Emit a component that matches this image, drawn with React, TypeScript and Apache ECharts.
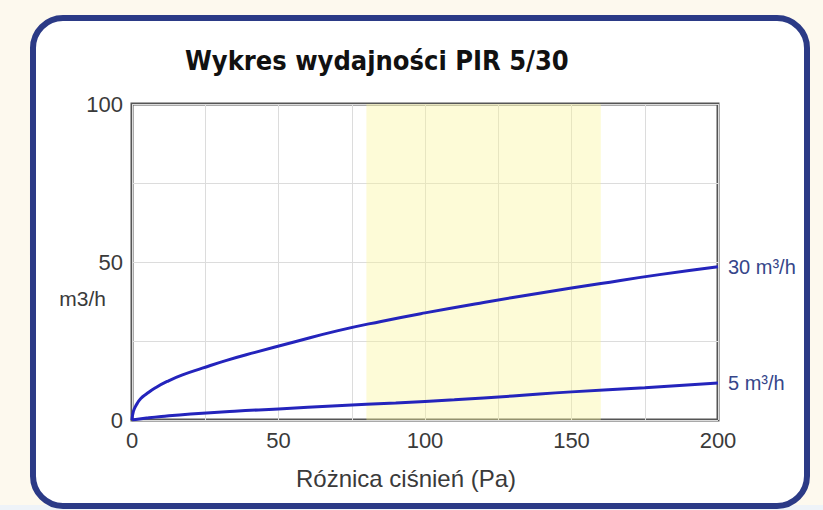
import React, { useEffect, useRef } from "react";
import * as echarts from "echarts";

const pressure30 = [0, 0.5, 1.5, 3, 5, 8, 12, 17, 24, 32, 42, 55, 70, 85, 100, 120, 140, 160, 180, 200];
const flow30 = [0, 2.8, 4.8, 6.8, 8.3, 10.2, 12.2, 14.2, 16.4, 18.8, 21.4, 24.6, 28.2, 31.2, 33.9, 37.2, 40.3, 43.2, 46.0, 48.5];
const pressure5 = [0, 5, 10, 20, 35, 50, 70, 90, 110, 130, 150, 175, 200];
const flow5 = [0, 0.6, 1.1, 1.9, 2.8, 3.5, 4.5, 5.4, 6.4, 7.6, 8.9, 10.2, 11.7];
const optimalRange = [80, 160];
const seriesNames = ["30 m³/h", "5 m³/h"];
const title = "Wykres wydajności PIR 5/30";
const xName = "Różnica ciśnień (Pa)";
const yName = "m3/h";

export default function App() {
  const ref = useRef<HTMLDivElement>(null);
  useEffect(() => {
    if (!ref.current) return;
    const chart = echarts.init(ref.current, null, { renderer: "svg" });
    const font = "'Liberation Sans', Arial, sans-serif";
    const lineColor = "#2424bc";
    const labelColor = "#36468a";
    const textColor = "#3a3a3a";
    const endLabel = (text: string) => ({
      show: true,
      formatter: text,
      fontFamily: font,
      fontSize: 20,
      color: labelColor,
      distance: 10,
    });
    chart.setOption({
      animation: false,
      backgroundColor: "#fdf9ee",
      graphic: [
        {
          type: "rect",
          z: -100,
          silent: true,
          shape: { x: 0, y: 505, width: 823, height: 5 },
          style: { fill: "#eef3f8" },
        },
        {
          type: "rect",
          z: -99,
          silent: true,
          shape: { x: 33, y: 18, width: 774, height: 488, r: 30 },
          style: { fill: "#ffffff", stroke: "#2b3a86", lineWidth: 6 },
        },
        {
          type: "text",
          x: 185,
          y: 60,
          style: {
            text: title,
            font: "bold 27px 'DejaVu Sans Condensed', 'DejaVu Sans', sans-serif",
            fill: "#111111",
            verticalAlign: "middle",
          },
        },
        {
          type: "text",
          x: 106,
          y: 298,
          style: {
            text: yName,
            font: "21px " + font,
            fill: textColor,
            align: "right",
            verticalAlign: "middle",
          },
        },
      ],
      grid: {
        left: 132,
        right: 105,
        top: 104,
        bottom: 90,
        show: true,
        borderColor: "#555555",
        borderWidth: 3,
        backgroundColor: "transparent",
      },
      xAxis: {
        type: "value",
        min: 0,
        max: 200,
        interval: 25,
        name: xName,
        nameLocation: "middle",
        nameGap: 46,
        nameTextStyle: {
          fontFamily: font,
          fontSize: 24,
          color: textColor,
          padding: [0, 38, 0, 0],
        },
        axisLine: { show: false },
        axisTick: { show: false },
        axisLabel: {
          fontFamily: font,
          fontSize: 22,
          color: textColor,
          margin: 9,
          formatter: (v: number) => (v % 50 === 0 ? String(v) : ""),
        },
        splitLine: { show: true, lineStyle: { color: "#dcdcdc", width: 1 } },
      },
      yAxis: {
        type: "value",
        min: 0,
        max: 100,
        interval: 25,
        axisLine: { show: false },
        axisTick: { show: false },
        axisLabel: {
          fontFamily: font,
          fontSize: 22,
          color: textColor,
          margin: 9,
          formatter: (v: number) => (v % 50 === 0 ? String(v) : ""),
        },
        splitLine: { show: true, lineStyle: { color: "#dcdcdc", width: 1 } },
      },
      series: [
        {
          name: seriesNames[0],
          type: "line",
          smooth: true,
          showSymbol: false,
          data: pressure30.map((p, i) => [p, flow30[i]]),
          lineStyle: { color: lineColor, width: 3 },
          itemStyle: { color: lineColor },
          endLabel: endLabel(seriesNames[0]),
          markArea: {
            silent: true,
            itemStyle: { color: "rgba(250, 245, 150, 0.38)" },
            data: [[{ xAxis: optimalRange[0] }, { xAxis: optimalRange[1] }]],
          },
          z: 3,
        },
        {
          name: seriesNames[1],
          type: "line",
          smooth: true,
          showSymbol: false,
          data: pressure5.map((p, i) => [p, flow5[i]]),
          lineStyle: { color: lineColor, width: 3 },
          itemStyle: { color: lineColor },
          endLabel: endLabel(seriesNames[1]),
          z: 3,
        },
      ],
    });
    return () => chart.dispose();
  }, []);
  return (
    <div
      ref={ref}
      style={{ position: "fixed", left: 0, top: 0, width: 823, height: 510 }}
    />
  );
}
